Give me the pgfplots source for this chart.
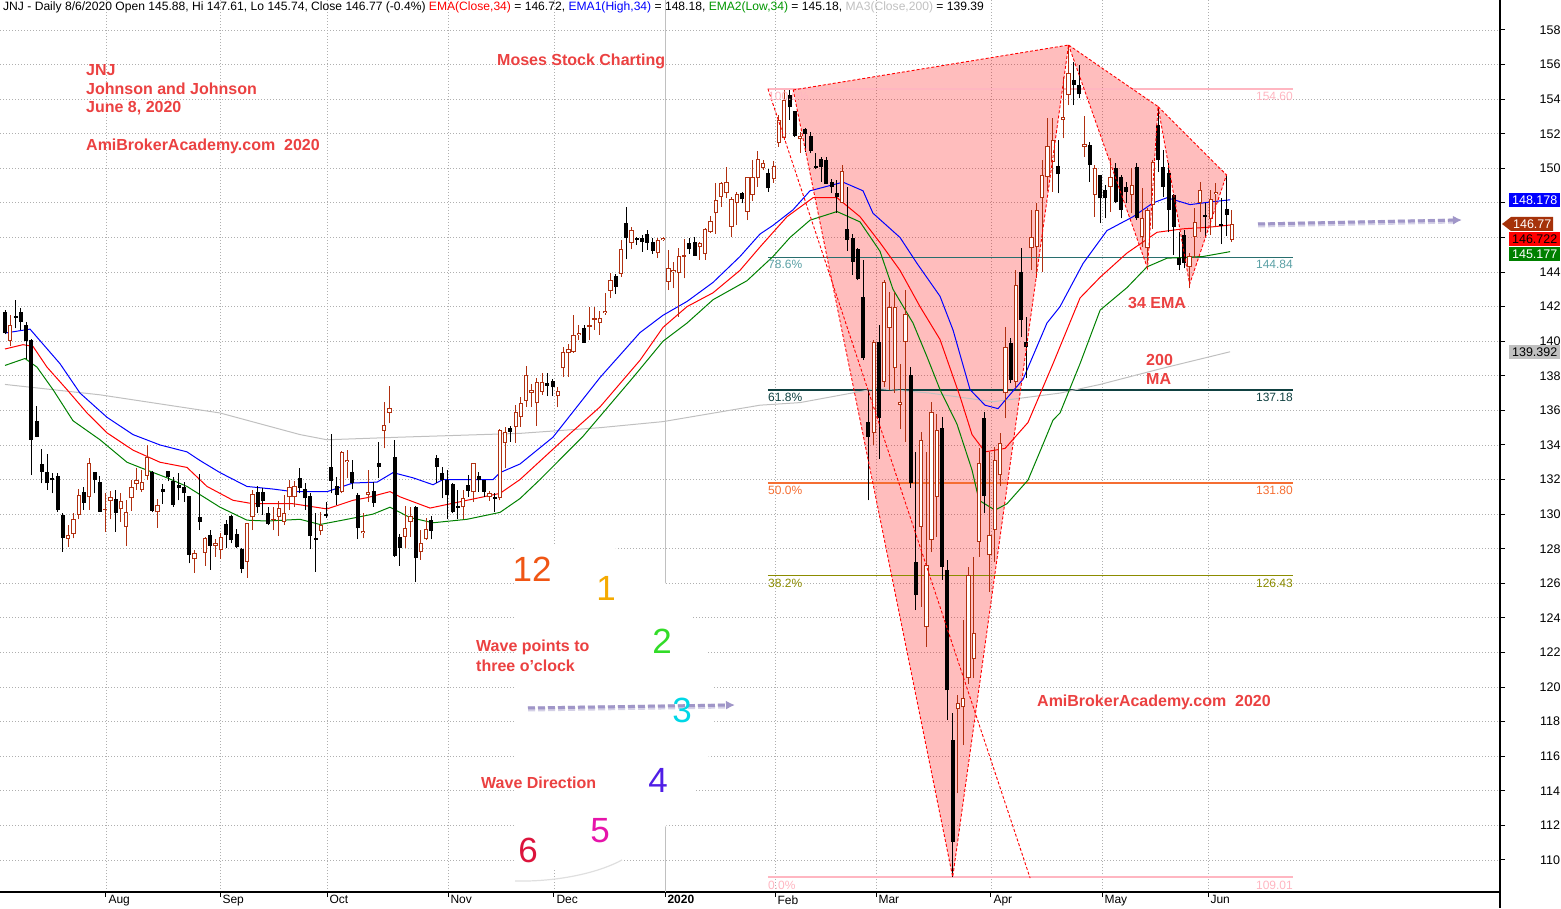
\documentclass[border=0pt]{standalone}
\usepackage{pgfplots}
\pgfplotsset{compat=1.18}
\usepackage{pgfplotstable}
\usepackage{fontspec}
\setmainfont{Liberation Sans}
\usetikzlibrary{arrows.meta}
\definecolor{candle}{RGB}{176,48,16}
\definecolor{annot}{RGB}{235,65,65}
\definecolor{emag}{RGB}{0,128,0}
\definecolor{ma200}{RGB}{192,192,192}
\definecolor{gridc}{RGB}{175,175,175}
\definecolor{fibpink}{RGB}{255,182,193}
\definecolor{fib786}{RGB}{40,110,110}
\definecolor{fib786t}{RGB}{90,160,165}
\definecolor{fib618}{RGB}{15,65,65}
\definecolor{fib500}{RGB}{245,110,50}
\definecolor{fib382}{RGB}{140,140,0}
\definecolor{wave}{RGB}{160,150,200}
\definecolor{brownbox}{RGB}{165,50,10}
\definecolor{hdrgreen}{RGB}{0,150,0}
\newcommand{\fs}[1]{\fontsize{#1}{#1}\selectfont}

\pgfplotstableread{
i o h l c
1 140.03 141.5 139.7 140.94
12 128.56 129.37 128.12 128.8
13 128.85 130.04 128.6 129.7
14 129.95 131.43 129.7 131.11
16 130.97 133.23 130.24 132.97
19 130.24 131.2 128.99 130.3
20 130.78 131.36 129.7 131.01
22 130.28 131.2 129.56 130.78
23 129.27 130.8 128.17 130.14
24 130.91 132.0 130.2 131.59
25 131.74 132.65 131.4 132.0
26 131.4 132.55 131.3 131.88
27 132.22 134.0 132.0 133.32
29 130.1 130.9 129.2 130.5
36 127.38 127.93 126.6 127.73
38 127.77 128.7 127.0 128.6
40 128.16 128.54 127.54 128.31
41 127.9 128.93 127.4 128.66
46 127.25 129.5 126.32 129.47
47 129.81 131.4 129.08 131.14
51 129.64 130.43 129.08 129.74
52 129.85 130.78 128.73 130.33
53 129.56 131.1 129.37 130.04
54 130.97 131.97 130.24 131.59
55 130.97 131.9 130.43 131.65
60 129.02 130.14 128.79 129.37
64 131.26 133.65 131.2 133.61
65 133.03 133.71 132.07 133.15
68 128.89 130.04 128.6 129.04
69 131.11 132.55 130.72 131.3
72 134.83 136.5 133.8 135.15
73 135.87 137.4 135.25 136.16
76 128.7 130.47 128.06 129.18
77 129.56 130.43 128.7 129.91
79 127.83 129.08 127.35 128.31
80 128.54 129.76 128.5 129.12
87 130.39 131.4 129.7 130.91
89 131.26 132.97 130.72 132.93
92 130.97 131.36 130.78 131.2
94 130.91 134.9 130.8 134.86
95 134.13 135.06 132.65 134.77
97 135.06 136.3 134.1 135.93
98 135.64 136.75 135.06 136.4
99 136.56 138.57 136.2 138.05
100 137.0 137.5 136.2 137.2
101 136.41 137.9 135.1 137.66
102 137.08 138.14 136.9 137.66
105 136.83 137.33 136.18 137.14
106 138.43 139.69 137.95 139.36
107 139.3 139.84 137.95 139.53
108 139.4 141.52 139.34 140.36
109 140.34 140.94 140.07 140.48
111 140.84 141.96 140.07 140.94
112 141.25 141.96 140.65 141.35
113 141.04 141.77 140.36 141.33
114 141.65 142.77 141.52 141.77
115 142.92 143.96 142.48 143.54
117 143.89 145.85 143.73 145.31
119 145.7 146.63 145.31 146.43
124 145.08 145.95 144.8 145.85
125 145.83 146.0 145.8 145.97
126 143.45 145.28 142.96 144.22
127 143.98 144.6 143.06 144.1
128 143.97 145.37 141.42 144.93
129 144.88 145.89 143.64 144.97
132 145.43 145.76 144.7 145.66
133 145.05 146.53 144.7 146.47
134 146.34 147.24 146.28 146.97
135 147.4 149.17 146.2 148.17
136 148.36 149.23 147.78 149.13
137 148.55 150.06 148.26 149.23
138 146.63 148.36 146.01 148.2
139 148.01 148.65 146.72 148.51
141 147.49 149.5 147.0 149.48
142 148.46 150.48 148.13 149.48
143 149.42 151.0 148.94 150.52
144 150.0 150.48 149.9 150.33
146 149.36 150.4 149.17 150.13
147 151.45 153.08 151.25 152.8
148 151.73 154.53 151.64 153.95
151 151.68 152.12 150.9 151.87
159 148.01 150.19 147.97 149.86
165 134.71 140.07 134.0 139.97
167 137.66 143.54 137.37 143.44
168 140.75 142.87 137.18 142.0
169 138.43 142.87 137.0 142.0
170 136.3 138.7 134.9 136.5
171 139.97 142.96 134.2 141.6
174 129.27 134.77 124.64 134.28
175 123.49 133.6 122.33 127.06
176 128.5 136.5 127.8 135.9
177 131.0 135.8 128.69 134.86
181 118.71 119.54 113.85 119.09
182 118.82 123.87 116.64 119.34
183 120.5 126.96 120.2 126.47
184 121.6 127.54 120.5 123.1
185 128.4 133.8 127.54 132.93
187 127.63 133.61 125.51 128.79
188 129.08 133.9 127.25 133.13
189 132.26 134.67 131.6 134.09
190 136.99 140.84 135.54 139.69
192 137.66 144.12 137.3 143.25
195 145.37 147.59 144.12 146.05
196 145.47 147.97 143.64 147.59
197 148.26 150.48 144.0 149.61
198 149.5 152.9 148.7 151.3
199 150.39 152.89 148.65 151.64
201 152.79 155.3 151.73 152.95
202 154.24 157.13 153.66 155.49
205 151.25 153.03 150.67 151.39
207 148.46 150.19 147.2 150.0
210 148.94 150.58 147.5 149.52
214 148.46 150.0 147.4 149.04
216 146.05 148.84 145.47 147.11
217 145.37 147.68 144.5 147.59
218 147.88 150.48 146.5 150.38
225 144.32 145.08 143.06 144.9
226 146.05 147.68 144.8 146.92
227 148.0 149.23 146.34 148.75
229 147.05 148.75 146.14 148.2
230 148.5 149.13 146.63 148.62
233 145.88 147.61 145.74 146.77
}\up

\pgfplotstableread{
i o h l c
0 141.71 141.8 140.4 140.46
2 141.46 142.38 140.74 141.36
3 141.71 141.9 140.65 141.13
4 140.94 141.13 139.0 140.03
5 140.07 140.1 132.26 134.29
6 135.4 136.25 134.44 134.48
7 132.9 133.75 131.78 132.45
8 132.42 133.48 131.4 131.78
9 132.07 132.36 131.2 131.95
10 132.2 132.36 130.14 130.24
11 129.95 130.04 127.83 128.6
15 131.28 131.59 130.24 130.66
17 132.42 132.42 131.2 131.97
18 131.88 132.2 130.14 130.14
21 130.87 131.4 128.99 130.08
28 132.45 132.5 130.1 130.2
30 131.45 131.72 130.6 131.3
31 132.49 132.5 131.9 132.16
32 131.93 132.16 130.43 130.53
33 131.68 132.36 130.8 131.49
34 131.59 131.88 130.72 131.2
35 131.05 131.05 127.15 127.64
37 129.81 132.3 129.08 129.56
39 128.79 129.08 126.77 128.17
42 129.43 129.66 128.02 128.79
43 129.89 129.95 128.31 128.5
44 128.85 129.12 128.02 128.12
45 127.98 128.02 126.57 126.83
48 131.3 131.63 130.08 130.39
49 131.28 131.49 129.95 130.74
50 130.04 130.43 129.37 129.43
56 132.07 132.65 131.2 131.49
57 131.45 131.78 130.24 130.91
58 131.05 131.2 127.96 128.73
59 128.64 130.04 126.67 128.52
61 130.0 130.72 129.8 129.9
62 132.7 134.63 131.2 131.93
63 131.63 132.16 130.53 131.11
66 132.42 133.13 131.45 131.78
67 131.11 131.2 128.54 129.18
70 131.34 131.88 130.43 130.66
71 132.97 134.17 132.07 132.74
74 133.32 134.29 127.54 127.58
75 128.66 128.85 127.0 128.02
78 130.43 130.47 126.09 127.44
81 129.66 129.89 128.54 129.04
82 133.23 133.42 131.78 132.74
83 132.36 132.74 130.91 131.97
84 132.0 132.55 129.7 131.11
85 131.74 131.82 130.04 130.1
86 130.49 131.4 129.7 130.37
88 131.68 132.26 131.0 131.36
90 132.22 132.42 131.3 131.97
91 131.95 131.97 131.0 131.3
93 131.0 131.2 130.14 130.87
96 134.96 135.1 134.19 134.77
103 137.6 138.14 136.83 137.43
104 137.72 137.8 136.83 137.33
110 140.75 140.94 139.92 139.92
116 143.77 143.89 142.73 143.16
118 146.86 147.74 144.74 145.95
120 145.95 146.01 145.57 145.87
121 145.97 146.14 145.18 145.76
122 146.2 146.43 145.28 145.7
123 145.76 145.95 145.05 145.24
130 145.7 145.95 145.05 145.31
131 145.76 146.01 144.93 144.93
140 148.59 148.65 147.97 148.2
145 149.75 149.94 148.65 148.84
149 154.24 154.53 152.8 153.53
150 153.33 153.33 151.8 151.87
152 152.26 152.31 150.96 151.98
153 151.87 152.12 150.87 151.02
154 150.15 150.9 149.94 150.04
155 150.56 150.64 149.23 150.1
156 150.48 150.64 149.09 149.09
157 149.23 149.36 148.55 148.9
158 148.6 149.3 147.44 148.36
160 146.47 148.94 145.24 145.85
161 145.95 146.2 143.83 144.6
162 145.31 145.37 143.54 143.58
163 142.58 144.7 138.91 139.01
164 135.35 137.18 130.8 134.48
166 139.97 140.94 133.2 135.54
172 138.05 138.5 131.5 131.78
173 127.25 133.6 124.45 125.32
178 134.96 135.6 126.2 126.96
179 126.77 127.35 118.09 119.8
180 116.93 118.47 109.01 111.05
186 135.54 135.9 130.04 131.04
191 139.88 140.17 137.56 137.76
193 144.02 145.37 140.26 141.23
194 139.97 141.42 137.85 139.69
200 150.13 151.64 148.55 149.67
203 155.1 156.17 153.66 154.82
204 154.82 155.98 154.05 154.28
206 151.35 151.54 149.23 150.19
208 149.61 149.61 146.82 148.26
209 148.75 149.04 147.1 148.26
211 150.0 150.29 147.97 148.07
212 149.52 149.61 147.1 147.59
213 148.94 149.23 148.0 148.65
215 150.1 150.29 147.0 147.11
219 152.5 153.57 149.8 150.48
220 150.1 151.06 148.36 148.94
221 149.71 150.29 146.3 147.59
222 148.46 148.5 145.0 146.63
223 144.8 146.34 144.1 144.41
224 146.14 146.43 144.22 144.51
228 147.3 147.97 146.05 147.17
231 146.78 148.27 145.62 146.66
232 147.63 149.62 146.09 147.3
}\dn

\pgfplotstableread{
px p
5 140.47
30 140.7
60 138.7
80 137.0
107 135.6
133 134.6
160 134.0
187 133.6
200 133.1
220 132.4
247 131.6
273 131.45
293 131.3
327 131.3
353 131.8
377 131.85
393 132.4
413 132.1
433 131.7
443 132.0
467 132.0
493 132.0
500 132.4
520 132.9
553 134.45
600 137.9
640 140.5
663 141.5
687 142.3
713 143.4
740 144.9
760 146.2
773 146.7
793 147.6
810 148.7
843 149.2
863 148.7
873 147.4
900 146.0
917 144.5
940 142.6
953 140.65
970 137.2
985 136.3
998 136.1
1023 137.8
1047 141.05
1060 142.0
1083 144.5
1107 146.4
1133 147.2
1153 148.0
1167 148.3
1190 147.9
1210 148.05
1230 148.18
}\emahigh

\pgfplotstableread{
px p
5 139.55
23 139.8
33 139.7
47 138.5
67 137.2
87 135.85
107 134.7
133 133.7
160 133.0
187 132.7
207 131.6
233 130.8
253 130.6
293 130.6
327 130.3
353 130.8
367 130.95
390 131.3
400 131.0
430 130.35
467 130.8
500 131.2
520 132.0
567 134.5
600 136.2
640 138.9
663 140.8
687 142.0
713 142.8
740 144.1
760 145.45
787 147.2
813 148.3
837 148.3
860 147.2
880 145.7
900 144.1
920 142.0
940 140.1
960 136.8
972 134.6
985 133.6
1005 133.8
1028 135.3
1053 138.7
1080 142.5
1100 143.7
1127 145.1
1157 146.3
1183 146.5
1210 146.6
1230 146.72
}\emaclose

\pgfplotstableread{
px p
5 138.6
25 139.0
37 138.5
53 137.2
73 135.4
100 134.3
127 133.0
140 132.7
167 132.1
187 131.6
220 130.4
247 129.65
267 129.6
300 129.7
320 129.4
347 129.7
373 130.0
390 130.4
410 129.8
433 129.5
467 129.7
500 130.1
520 130.9
540 132.0
583 134.5
633 137.9
663 140.0
687 141.05
713 142.4
747 143.5
760 144.2
773 144.9
790 146.0
810 147.0
837 147.5
860 146.9
880 145.2
893 143.0
913 141.05
927 139.1
940 137.2
957 135.2
972 132.55
979 130.8
995 130.23
1007 130.6
1028 131.97
1042 133.9
1053 135.44
1060 135.85
1080 138.7
1100 141.8
1127 143.1
1147 144.3
1167 144.8
1203 144.9
1230 145.18
}\emalow

\pgfplotstableread{
px p
5 137.5
100 136.9
220 135.85
300 134.6
327 134.3
400 134.45
520 134.67
600 135.0
663 135.35
760 136.3
800 136.45
877 137.27
930 137.0
993 136.5
1060 137.0
1100 137.5
1160 138.4
1230 139.39
}\mavg

\begin{document}
\begin{tikzpicture}
\useasboundingbox (0pt,-16pt) rectangle (1561pt,892pt);
\begin{axis}[
  at={(0pt,0pt)}, anchor=south west,
  scale only axis, width=1500pt, height=892pt,
  xmin=-0.95, xmax=283.95, ymin=108.145, ymax=159.735,
  axis x line*=bottom, axis y line*=right,
  axis line style={black, line width=1.5pt},
  tick align=outside, major tick length=5pt,
  tick style={black, line width=1pt},
  xtick={19.18,40.84,61.16,84.14,104.27,125.36,146.25,165.43,187.27,208.36,228.49},
  xticklabels={Aug,Sep,Oct,Nov,Dec,\textbf{2020},Feb,Mar,Apr,May,Jun},
  ytick={110,112,...,158},
  yticklabels={110,112,114,116,118,120,122,124,126,128,130,132,134,136,138,140,142,144,{},{},150,152,154,156,158},
  /pgf/number format/assume math mode=true,
  xticklabel style={font=\fs{12}, anchor=north west, xshift=-1pt, yshift=5pt},
  yticklabel style={font=\fs{12.5}, anchor=center, xshift=45pt},
  grid=major,
  major grid style={gridc, line width=0.8pt, dash pattern=on 1pt off 2pt},
  clip=true,
]
% year separator
\addplot[ma200, line width=1pt, forget plot] coordinates {(125.36,108.145) (125.36,159.735)};
% pattern fills
\addplot[draw=none, fill=red, fill opacity=0.26, forget plot] coordinates {(149.7,154.53) (202,157.13) (180,109.01)} --cycle;
\addplot[draw=none, fill=red, fill opacity=0.26, forget plot] coordinates {(202,157.13) (219,153.57) (217,144.22)} --cycle;
\addplot[draw=none, fill=red, fill opacity=0.26, forget plot] coordinates {(219,153.57) (232,149.62) (225,143.3)} --cycle;
% fib lines
\addplot[fibpink, line width=2pt, forget plot] coordinates {(144.9,154.6) (244.6,154.6)};
\addplot[fib786, line width=1.2pt, forget plot] coordinates {(144.9,144.84) (244.6,144.84)};
\addplot[fib618, line width=1.2pt, forget plot] coordinates {(144.9,137.18) (244.6,137.18)};
\addplot[fib500, line width=1.2pt, forget plot] coordinates {(144.9,131.80) (244.6,131.80)};
\addplot[fib382, line width=1.2pt, forget plot] coordinates {(144.9,126.43) (244.6,126.43)};
\addplot[fibpink, line width=2pt, forget plot] coordinates {(144.9,109.01) (244.6,109.01)};
% moving averages
\addplot[ma200, line width=1pt, forget plot] table[x expr={(\thisrow{px}-5)/5.265}, y=p] {\mavg};
\addplot[emag, line width=1pt, forget plot] table[x expr={(\thisrow{px}-5)/5.265}, y=p] {\emalow};
\addplot[red, line width=1pt, forget plot] table[x expr={(\thisrow{px}-5)/5.265}, y=p] {\emaclose};
\addplot[blue, line width=1pt, forget plot] table[x expr={(\thisrow{px}-5)/5.265}, y=p] {\emahigh};
% candle wicks
\addplot[draw=none, mark=none, forget plot,
  error bars/.cd, y dir=plus, y explicit, error mark=none,
  error bar style={draw=candle, line width=1pt, solid}]
  table[x=i, y=l, y error plus expr={\thisrow{h}-\thisrow{l}}] {\up};
\addplot[draw=none, mark=none, forget plot,
  error bars/.cd, y dir=plus, y explicit, error mark=none,
  error bar style={draw=black, line width=1pt, solid}]
  table[x=i, y=l, y error plus expr={\thisrow{h}-\thisrow{l}}] {\dn};
% bodies
\addplot[draw=none, mark=none, forget plot,
  error bars/.cd, y dir=plus, y explicit, error mark=none,
  error bar style={draw=black, line width=4pt, solid}]
  table[x=i, y=c, y error plus expr={\thisrow{o}-\thisrow{c}}] {\dn};
\addplot[draw=none, mark=none, forget plot,
  error bars/.cd, y dir=plus, y explicit, error mark=none,
  error bar style={draw=candle, line width=4.4pt, solid}]
  table[x=i, y=o, y error plus expr={\thisrow{c}-\thisrow{o}}] {\up};
\addplot[draw=none, mark=none, forget plot,
  error bars/.cd, y dir=plus, y explicit, error mark=none,
  error bar style={draw=white, line width=2.4pt, solid}]
  table[x=i, y expr={\thisrow{o}+0.058}, y error plus expr={max(\thisrow{c}-\thisrow{o}-0.116,0)}] {\up};
% pattern outlines
\addplot[red, line width=0.9pt, dash pattern=on 3pt off 2pt, forget plot] coordinates {(149.7,154.53) (202,157.13) (180,109.01)} --cycle;
\addplot[red, line width=0.9pt, dash pattern=on 3pt off 2pt, forget plot] coordinates {(202,157.13) (219,153.57) (217,144.22)} --cycle;
\addplot[red, line width=0.9pt, dash pattern=on 3pt off 2pt, forget plot] coordinates {(219,153.57) (232,149.62) (225,143.3)} --cycle;
\addplot[red, line width=0.9pt, dash pattern=on 3pt off 2pt, forget plot] coordinates {(144.9,154.6) (194.7,108.95)};
\end{axis}

\begin{scope}[x=1pt, y=-1pt, shift={(0pt,892pt)}]
% white clock patch
\fill[white] (515,546) -- (612,546) -- (663,580) -- (690,615) -- (706,650) -- (714,690) -- (714,725) -- (708,760) -- (694,795) -- (664,828) -- (620,832) -- (620,866) -- (515,872) -- cycle;
\draw[gray!25, line width=1.2pt] (515,881) .. controls (560,882) and (600,872) .. (622,860);
% axis extension
\draw[black, line width=1.5pt] (1500,891) -- (1500,908);
% header
\node[anchor=west, inner sep=0pt, font=\fs{12.1}] at (3,7) {JNJ - Daily 8/6/2020 Open 145.88, Hi 147.61, Lo 145.74, Close 146.77 (-0.4\%) \textcolor{red}{EMA(Close,34)} = 146.72, \textcolor{blue}{EMA1(High,34)} = 148.18, \textcolor{hdrgreen}{EMA2(Low,34)} = 145.18, \textcolor{ma200}{MA3(Close,200)} = 139.39};
% red annotations
\begin{scope}[every node/.style={anchor=west, inner sep=0pt, text=annot, font=\bfseries\fs{16}}]
\node at (86,70) {JNJ};
\node at (86,89) {Johnson and Johnson};
\node at (86,108) {June 8, 2020};
\node at (86,146) {AmiBrokerAcademy.com\ \ 2020};
\node at (497,61) {Moses Stock Charting};
\node at (1128,303) {34 EMA};
\node at (1146,360) {200};
\node at (1146,379) {MA};
\node at (1037,702) {AmiBrokerAcademy.com\ \ 2020};
\node at (476,647) {Wave points to};
\node at (476,666) {three o'clock};
\node at (481,783) {Wave Direction};
\end{scope}
% fib labels
\begin{scope}[every node/.style={inner sep=0pt, font=\fs{12}}]
\node[anchor=west, text=fibpink] at (768,96) {100.0\%};
\node[anchor=east, text=fibpink] at (1293,96) {154.60};
\node[anchor=west, text=fib786t] at (768,264) {78.6\%};
\node[anchor=east, text=fib786t] at (1293,264) {144.84};
\node[anchor=west, text=fib618] at (768,397) {61.8\%};
\node[anchor=east, text=fib618] at (1293,397) {137.18};
\node[anchor=west, text=fib500] at (768,490) {50.0\%};
\node[anchor=east, text=fib500] at (1293,490) {131.80};
\node[anchor=west, text=fib382] at (768,583) {38.2\%};
\node[anchor=east, text=fib382] at (1293,583) {126.43};
\node[anchor=west, text=fibpink] at (768,885) {0.0\%};
\node[anchor=east, text=fibpink] at (1293,885) {109.01};
\end{scope}
% wave arrows
\draw[wave!45, line width=5pt, dash pattern=on 7pt off 3pt] (528,709) -- (728,706);
\draw[wave, line width=3pt, dash pattern=on 7pt off 3pt, -{Latex[length=9pt,width=9pt]}] (528,708) -- (735,705);
\draw[wave!45, line width=5pt, dash pattern=on 7pt off 3pt] (1258,225) -- (1455,221);
\draw[wave, line width=3pt, dash pattern=on 7pt off 3pt, -{Latex[length=9pt,width=9pt]}] (1258,224) -- (1462,220);
% clock numbers
\begin{scope}[every node/.style={inner sep=0pt, font=\fs{35}}]
\node[text={rgb,255:red,240;green,85;blue,20}] at (532,569) {12};
\node[text={rgb,255:red,245;green,170;blue,0}] at (606,588) {1};
\node[text={rgb,255:red,50;green,220;blue,40}] at (662,641) {2};
\node[text={rgb,255:red,0;green,215;blue,230}] at (682,710) {3};
\node[text={rgb,255:red,80;green,30;blue,230}] at (658,780) {4};
\node[text={rgb,255:red,230;green,20;blue,170}] at (600,831) {5};
\node[text={rgb,255:red,220;green,20;blue,60}] at (528,850) {6};
\end{scope}
% value boxes
\begin{scope}[every node/.style={inner sep=0pt, font=\fs{12.5}, minimum height=14pt, minimum width=51pt, anchor=west}]
\node[fill=blue, text=white] at (1509,200) {148.178};
\fill[brownbox] (1502,224) -- (1511,217) -- (1553,217) -- (1553,231) -- (1511,231) -- cycle;
\node[text=white, minimum width=42pt] at (1511,224) {146.77};
\node[fill=red, text=black] at (1509,239.5) {146.722};
\node[fill=emag, text=white] at (1509,254.5) {145.177};
\node[fill={rgb,255:red,192;green,192;blue,192}, text=black] at (1509,352) {139.392};
\end{scope}
\end{scope}
\end{tikzpicture}
\end{document}
